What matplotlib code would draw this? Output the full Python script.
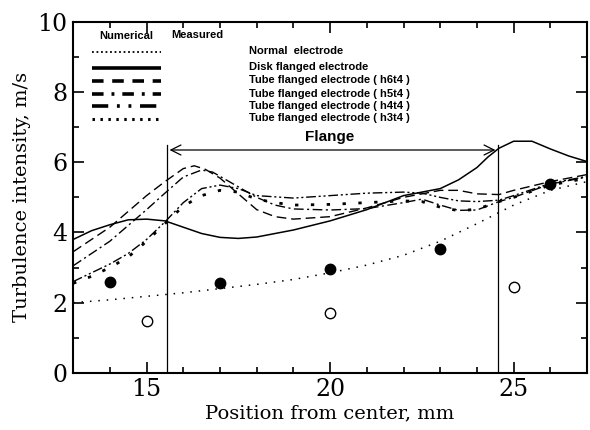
"""
Intensité de turbulence le long du rayon : calcul numérique (courbes)
et mesures (points) pour différentes électrodes.
"""

import numpy as np
import matplotlib
matplotlib.use("Agg")
import matplotlib.pyplot as plt
from matplotlib.ticker import MultipleLocator

# --- Données ----------------------------------------------------------
x_normal = [13, 14, 15, 16, 17, 18, 19, 20, 21, 22, 23, 24, 25, 26, 27]
y_normal = [2.0, 2.08, 2.18, 2.28, 2.4, 2.52, 2.66, 2.85, 3.07, 3.35, 3.75, 4.25, 4.78, 5.2, 5.45]

x_disk = [13, 13.5, 14, 14.5, 15, 15.5, 16, 16.5, 17, 17.5, 18, 19, 20, 21, 22, 22.5, 23,
          23.5, 24, 24.3, 24.6, 25, 25.5, 26, 26.5, 27]
y_disk = [3.8, 4.05, 4.22, 4.36, 4.38, 4.33, 4.15, 3.97, 3.86, 3.83, 3.87, 4.07, 4.33, 4.65,
          5.05, 5.15, 5.25, 5.5, 5.85, 6.15, 6.4, 6.6, 6.6, 6.38, 6.18, 6.02]

x_h6 = [13, 13.5, 14, 14.5, 15, 15.5, 16, 16.3, 16.6, 17, 17.5, 18, 18.5, 19, 20, 21, 22,
        23, 23.5, 24, 24.6, 25, 26, 27]
y_h6 = [3.45, 3.8, 4.15, 4.6, 5.05, 5.45, 5.82, 5.9, 5.8, 5.55, 5.1, 4.65, 4.45, 4.38, 4.45,
        4.7, 5.0, 5.2, 5.2, 5.1, 5.08, 5.2, 5.45, 5.65]

x_h5 = [13, 13.5, 14, 14.5, 15, 15.5, 16, 16.5, 16.8, 17, 17.5, 18, 18.5, 19, 20, 21, 22,
        22.5, 23, 23.5, 24, 24.6, 25, 26, 27]
y_h5 = [3.05, 3.4, 3.75, 4.2, 4.65, 5.12, 5.58, 5.78, 5.72, 5.6, 5.3, 5.0, 4.78, 4.67, 4.64,
        4.68, 4.85, 4.95, 4.78, 4.63, 4.64, 4.88, 5.0, 5.38, 5.58]

x_h4 = [13, 13.5, 14, 14.5, 15, 15.5, 16, 16.5, 17, 17.5, 18, 19, 20, 21, 22, 22.5, 23,
        23.5, 24, 24.6, 25, 26, 27]
y_h4 = [2.6, 2.85, 3.1, 3.4, 3.8, 4.3, 4.85, 5.25, 5.35, 5.25, 5.05, 4.98, 5.05, 5.12, 5.15,
        5.12, 5.0, 4.9, 4.88, 4.92, 5.05, 5.4, 5.6]

x_h3 = [13, 13.5, 14, 14.5, 15, 15.5, 16, 16.5, 17, 17.5, 18, 18.5, 19, 20, 21, 22, 22.5,
        23, 23.5, 24, 24.6, 25, 26, 27]
y_h3 = [2.55, 2.75, 3.0, 3.3, 3.75, 4.25, 4.75, 5.05, 5.2, 5.15, 4.95, 4.85, 4.78, 4.8, 4.85,
        4.9, 4.88, 4.72, 4.62, 4.66, 4.88, 5.0, 5.35, 5.55]

# Mesures
x_meas_filled = [14, 17, 20, 23, 26]
y_meas_filled = [2.58, 2.55, 2.97, 3.54, 5.38]
x_meas_open = [15, 20, 25]
y_meas_open = [1.49, 1.71, 2.45]

# Limites de la bride
flange_start, flange_end = 15.55, 24.58

legend_labels = [
    "Normal  electrode",
    "Disk flanged electrode",
    "Tube flanged electrode ( h6t4 )",
    "Tube flanged electrode ( h5t4 )",
    "Tube flanged electrode ( h4t4 )",
    "Tube flanged electrode ( h3t4 )",
]

# Styles de trait (même ordre que la légende)
styles = [
    dict(linestyle=(0, (1, 4.5)), lw=1.1),
    dict(linestyle="-", lw=1.1),
    dict(linestyle=(0, (7, 3.5)), lw=1.0),
    dict(linestyle=(0, (7, 2.5, 1.5, 2.5)), lw=1.0),
    dict(linestyle=(0, (7, 2, 1.5, 2, 1.5, 2)), lw=1.0),
    dict(linestyle=(0, (1.2, 4.5)), lw=2.0),
]

fig = plt.figure(figsize=(5.9, 4.3), dpi=100)
ax = fig.add_axes([0.124, 0.133, 0.871, 0.816])

series = [(x_normal, y_normal), (x_disk, y_disk), (x_h6, y_h6),
          (x_h5, y_h5), (x_h4, y_h4), (x_h3, y_h3)]
for (xs, ys), st in zip(series, styles):
    ax.plot(xs, ys, color="black", **st)

ax.plot(x_meas_filled, y_meas_filled, "o", color="black", markersize=7.5, zorder=5)
ax.plot(x_meas_open, y_meas_open, "o", markerfacecolor="white", markeredgecolor="black",
        markersize=7.5, markeredgewidth=1.0, zorder=5)

# Bride : traits verticaux + flèche
for xf in (flange_start, flange_end):
    ax.plot([xf, xf], [0, 6.5], color="black", lw=0.9)
ax.annotate("", xy=(flange_start, 6.35), xytext=(flange_end, 6.35),
            arrowprops=dict(arrowstyle="<->", color="black", lw=0.9,
                            mutation_scale=18))
ax.text(20.0, 6.72, "Flange", ha="center", va="center", fontsize=11,
        fontweight="bold", family="Liberation Sans")

# Légende dessinée à la main
ax.text(14.45, 9.6, "Numerical", ha="center", va="center", fontsize=8,
        fontweight="bold", family="Liberation Sans")
ax.text(15.68, 9.63, "Measured", ha="left", va="center", fontsize=8,
        fontweight="bold", family="Liberation Sans")
leg_y = [9.15, 8.7, 8.33, 7.94, 7.59, 7.23]
leg_styles = [
    dict(linestyle=(0, (1, 1.5)), lw=1.3),
    dict(linestyle="-", lw=2.6),
    dict(linestyle=(0, (3.2, 2.4)), lw=2.6),
    dict(linestyle=(0, (3.2, 2.2, 0.8, 2.2)), lw=2.6),
    dict(linestyle=(0, (4.5, 2.4, 0.8, 2.4, 0.8, 2.4)), lw=2.6),
    dict(linestyle=(0, (0.8, 1.8)), lw=2.2),
]
for yl, lab, st in zip(leg_y, legend_labels, leg_styles):
    ax.plot([13.5, 15.4], [yl, yl], color="black", solid_capstyle="butt",
            dash_capstyle="butt", **st)
    ax.text(17.8, yl + 0.02, lab, ha="left", va="center", fontsize=8,
            fontweight="bold", family="Liberation Sans")

# Axes
ax.set_xlim(13, 27)
ax.set_ylim(0, 10)
ax.xaxis.set_major_locator(MultipleLocator(5))
ax.xaxis.set_minor_locator(MultipleLocator(1))
ax.yaxis.set_major_locator(MultipleLocator(2))
ax.yaxis.set_minor_locator(MultipleLocator(1))
ax.tick_params(which="both", direction="in", top=True, right=True, width=1.2)
ax.tick_params(which="major", length=8, labelsize=17, pad=4)
ax.tick_params(which="minor", length=4)
for lab in ax.get_xticklabels() + ax.get_yticklabels():
    lab.set_family("DejaVu Serif")
for sp in ax.spines.values():
    sp.set_linewidth(1.5)

ax.set_xlabel("Position from center, mm", fontsize=14, family="DejaVu Serif", labelpad=2)
ax.set_ylabel("Turbulence intensity, m/s", fontsize=14, family="DejaVu Serif", labelpad=5)

fig.savefig("out.png", dpi=100)
